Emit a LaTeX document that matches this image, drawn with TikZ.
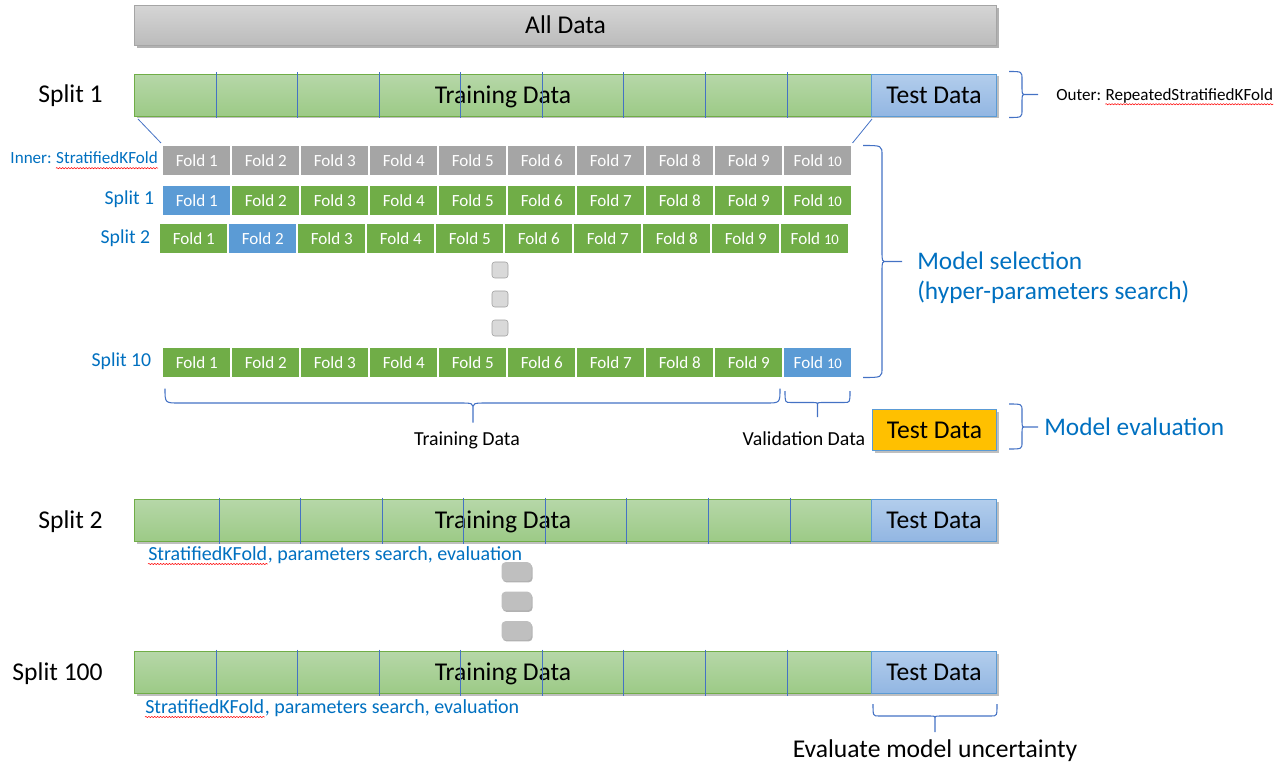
\documentclass[tikz,border=0pt]{standalone}
\usepackage{fontspec}
\setmainfont{Carlito}
\usetikzlibrary{shadows,decorations.pathmorphing}
\definecolor{lblue}{HTML}{0070C0}
\definecolor{bline}{HTML}{4472C4}
\definecolor{fgray}{HTML}{A5A5A5}
\definecolor{fgreen}{HTML}{70AD47}
\definecolor{fblue}{HTML}{5B9BD5}
\definecolor{forange}{HTML}{FFC000}
\definecolor{grtop}{HTML}{B6D7A8}
\definecolor{grbot}{HTML}{9CCA86}
\definecolor{bltop}{HTML}{B2CDEC}
\definecolor{blbot}{HTML}{92B6E2}
\definecolor{gytop}{HTML}{D5D5D5}
\definecolor{gybot}{HTML}{BBBBBB}
\definecolor{dotgray}{HTML}{BFBFBF}
\newcommand{\fsz}[1]{\fontsize{#1}{#1}\selectfont}
% vertical brace opening left, tip right: xend xline xtip ytop ybot ymid r
\newcommand{\vbrace}[7]{%
  \draw[bracestyle] (#1,#4) .. controls (#2,#4) .. (#2,{#4+#7}) -- (#2,{#6-#7})
    .. controls (#2,#6) .. ({#2+#7*0.5},#6) .. controls (#2,#6) .. (#2,{#6+#7})
    -- (#2,{#5-#7}) .. controls (#2,#5) .. (#1,#5)
    ({#2+#7*0.5},#6) -- (#3,#6);}
% horizontal brace opening up, tip down: x1 x2 xmid yend yline ytip r
\newcommand{\hbrace}[7]{%
  \draw[bracestyle] (#1,#4) .. controls (#1,#5) .. ({#1+#7},#5) -- ({#3-#7},#5)
    .. controls (#3,#5) .. (#3,{#5+#7*0.5}) .. controls (#3,#5) .. ({#3+#7},#5)
    -- ({#2-#7},#5) .. controls (#2,#5) .. (#2,#4)
    (#3,{#5+#7*0.5}) -- (#3,#6);}
\begin{document}
\begin{tikzpicture}[x=0.75pt,y=-0.75pt,
  bigtxt/.style={font=\fsz{19.2pt}},
  shad/.style={drop shadow={shadow xshift=1.5pt,shadow yshift=-1.5pt,opacity=0.25,fill=black}},
  bar/.style={anchor=north west,inner sep=0,minimum height=31.5pt,draw=fgreen,line width=0.75pt,
    top color=grtop,bottom color=grbot,bigtxt,text height=12.4pt,text depth=0pt,shad},
  testbar/.style={bar,draw=fblue,top color=bltop,bottom color=blbot,minimum width=93.75pt},
  trainbar/.style={bar,minimum width=552.75pt},
  fold/.style={anchor=north west,inner sep=0,minimum width=50.25pt,minimum height=21.75pt,
    text=white,font=\fsz{12.8pt}},
  divider/.style={bline,line width=0.6pt},
  bracestyle/.style={bline,line width=0.8pt},
  outlab/.style={anchor=base east,inner sep=0,font=\fsz{19.2pt}},
  inlab/.style={anchor=base east,inner sep=0,font=\fsz{14.8pt},text=lblue},
  small/.style={inner sep=0,font=\fsz{14.9pt}},
  note/.style={inner sep=0,font=\fsz{12.8pt}},
  sub/.style={inner sep=0,font=\fsz{15pt},text=lblue},
  bluebig/.style={anchor=base west,inner sep=0,font=\fsz{19pt},text=lblue},
  sdot/.style={draw=gray!75,fill=gray!30,rounded corners=2pt,minimum width=12pt,minimum height=12pt,inner sep=0},
  bdot/.style={fill=dotgray,rounded corners=3pt,minimum width=22.5pt,minimum height=14pt,inner sep=0,
    drop shadow={shadow xshift=0.8pt,shadow yshift=-1.2pt,opacity=0.3,fill=black}},
  squig/.style={red,line width=0.4pt,decorate,decoration={snake,amplitude=0.45pt,segment length=2.2pt}}
]
\useasboundingbox (0,0) rectangle (1276,766);

% All data
\node[anchor=north west,inner sep=0,minimum width=646.5pt,minimum height=30pt,draw=fgray,line width=0.75pt,
  top color=gytop,bottom color=gybot,bigtxt,text height=12.4pt,text depth=0pt,
  drop shadow={shadow xshift=2pt,shadow yshift=-2pt,opacity=0.3,fill=black}] (all) at (134,5) {All Data};

% Outer split 1
\node[trainbar] (tr1) at (134,74) {Training Data};
\node[testbar] (te1) at (871,74) {Test Data};
\foreach \x in {216,297.5,379.5,460.5,542,623.5,705.5,787} \draw[divider] (\x,72.5) -- (\x,118.5);
\node[outlab] (s1) at (103,103) {Split 1};

% outer brace
\vbrace{1009}{1022}{1038}{71.5}{117.5}{94.5}{8}
\node[note,anchor=base west] (outA) at (1056,100.5) {Outer:\kern0.23em};
\node[note,anchor=base west] (outB) at (outA.base east) {RepeatedStratifiedKFold};
\draw[squig] ([yshift=-2.8pt]outB.base west) -- ([yshift=-2.8pt]outB.base east);

% inner folds
\foreach \i in {1,...,10} {
  \node[fold,fill=fgray] (g\i) at ({163+69*(\i-1)},146) {Fold \ifnum\i=10 {\fsz{11pt}10}\else\i\fi};
}
\foreach \i in {1,...,10} {
  \ifnum\i=1 \def\fc{fblue}\else\def\fc{fgreen}\fi
  \node[fold,fill=\fc] (a\i) at ({163+69*(\i-1)},185.5) {Fold \ifnum\i=10 {\fsz{11pt}10}\else\i\fi};
}
\foreach \i in {1,...,10} {
  \ifnum\i=2 \def\fc{fblue}\else\def\fc{fgreen}\fi
  \node[fold,fill=\fc] (b\i) at ({160+69*(\i-1)},224) {Fold \ifnum\i=10 {\fsz{11pt}10}\else\i\fi};
}
\foreach \i in {1,...,10} {
  \ifnum\i=10 \def\fc{fblue}\else\def\fc{fgreen}\fi
  \node[fold,fill=\fc] (c\i) at ({163+69*(\i-1)},347.5) {Fold \ifnum\i=10 {\fsz{11pt}10}\else\i\fi};
}

% zoom lines
\draw[divider] ([shift={(4,2)}]tr1.south west) -- ([shift={(-2,-3)}]g1.north west);
\draw[divider] ([shift={(1,2)}]te1.south west) -- ([shift={(1,-3)}]g10.north east);

% inner labels
\node[note,anchor=base east,text=lblue] (inB) at (158,163.5) {StratifiedKFold};
\node[note,anchor=base east,text=lblue] (inA) at (inB.base west) {Inner:\kern0.23em};
\draw[squig] ([yshift=-3.5pt]inB.base west) -- ([yshift=-3.5pt]inB.base east);
\node[inlab] (l1) at (154.5,205) {Split 1};
\node[inlab] (l2) at (150.5,243.5) {Split 2};
\node[inlab] (l10) at (151.5,366.5) {Split 10};

% small dots
\node[sdot] (d1) at (500,270) {};
\node[sdot] (d2) at (500,299) {};
\node[sdot] (d3) at (500,328) {};

% model selection brace
\vbrace{863}{882}{902}{145.5}{377.5}{261.5}{10}
\node[bluebig] (ms1) at (917,270) {Model selection};
\node[bluebig] (ms2) at (917,300) {(hyper-parameters search)};

% training / validation braces
\hbrace{165}{780}{473}{388.5}{403}{422.5}{14}
\hbrace{785}{850}{817.5}{391}{402.5}{417}{6}
\node[small,anchor=base] (trl) at (467,445) {Training Data};
\node[small,anchor=base] (val) at (804,445) {Validation Data};

% orange test data
\node[anchor=north west,inner sep=0,minimum width=93pt,minimum height=30.75pt,draw=fblue,line width=0.75pt,
  fill=forange,bigtxt,text height=12.4pt,text depth=0pt,shad] (teo) at (872,409) {Test Data};
\vbrace{1009}{1022}{1038}{404}{449}{427}{7}
\node[bluebig] (me) at (1044,435) {Model evaluation};

% Outer split 2
\node[trainbar] (tr2) at (134,499) {Training Data};
\node[testbar] (te2) at (871,499) {Test Data};
\foreach \x in {219.5,300,382,463,545,626.5,708.5,790} \draw[divider] (\x,497.5) -- (\x,543.5);
\node[outlab] (s2) at (103,528) {Split 2};
\node[sub,anchor=base west] (sub2a) at (148,560) {StratifiedKFold};
\node[sub,anchor=base west] (sub2b) at (sub2a.base east) {, parameters search, evaluation};
\draw[squig] ([yshift=-3pt]sub2a.base west) -- ([yshift=-3pt]sub2a.base east);

% big dots
\node[bdot] (e1) at (516.5,571.5) {};
\node[bdot] (e2) at (516.5,601) {};
\node[bdot] (e3) at (516.5,630.5) {};

% Outer split 100
\node[trainbar] (tr3) at (134,651) {Training Data};
\node[testbar] (te3) at (871,651) {Test Data};
\foreach \x in {216,297.5,379.5,460,542,623,705.5,787} \draw[divider] (\x,649.5) -- (\x,695.5);
\node[outlab] (s3) at (103,680) {Split 100};
\node[sub,anchor=base west] (sub3a) at (145,713) {StratifiedKFold};
\node[sub,anchor=base west] (sub3b) at (sub3a.base east) {, parameters search, evaluation};
\draw[squig] ([yshift=-3pt]sub3a.base west) -- ([yshift=-3pt]sub3a.base east);

% uncertainty brace
\hbrace{873}{997}{935}{704}{716}{732}{6}
\node[bigtxt,inner sep=0,anchor=base] (unc) at (935,757) {Evaluate model uncertainty};
\end{tikzpicture}
\end{document}
